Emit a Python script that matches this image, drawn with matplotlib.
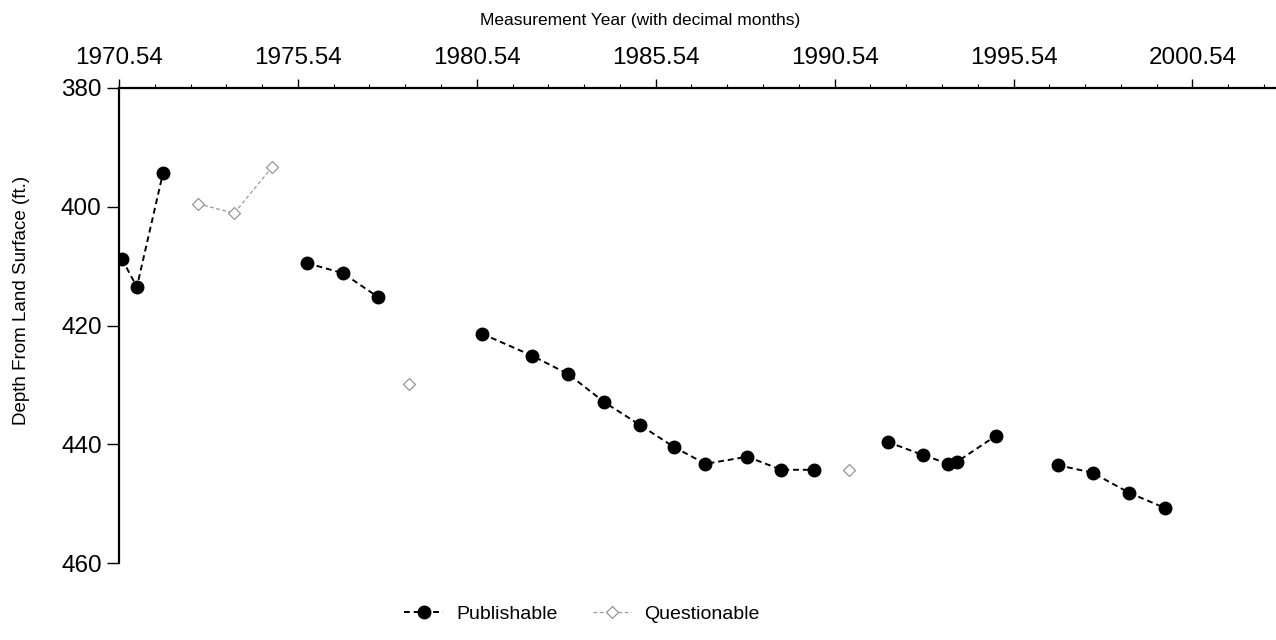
import numpy as np
import matplotlib
matplotlib.use("Agg")
import matplotlib.pyplot as plt
from matplotlib.ticker import MultipleLocator, FixedLocator

plt.rcParams['font.family'] = ['Liberation Sans', 'DejaVu Sans']

# Publishable measurements (NaN = gap in the dashed line)
pub_year = [1970.62, 1971.04, 1971.77, np.nan,
            1975.80, 1976.80, 1977.78, np.nan,
            1980.69, 1982.09, 1983.10, 1984.10, 1985.11, 1986.06, 1986.93,
            1988.10, 1989.05, 1989.95, np.nan,
            1992.02, 1993.00, 1993.72, 1993.95, 1995.04, np.nan,
            1996.77, 1997.75, 1998.78, 1999.76]
pub_depth = [408.8, 413.5, 394.3, np.nan,
             409.5, 411.2, 415.2, np.nan,
             421.4, 425.1, 428.2, 432.9, 436.8, 440.5, 443.3,
             442.1, 444.3, 444.3, np.nan,
             439.6, 441.8, 443.3, 443.0, 438.6, np.nan,
             443.5, 444.8, 448.2, 450.7]

# Questionable measurements
q_year = [1972.75, 1973.76, 1974.82, np.nan, 1978.65, np.nan, 1990.95]
q_depth = [399.5, 401.1, 393.3, np.nan, 429.9, np.nan, 444.3]

x_ticks = [1970.54, 1975.54, 1980.54, 1985.54, 1990.54, 1995.54, 2000.54]
y_ticks = [380, 400, 420, 440, 460]

fig = plt.figure(figsize=(12.76, 6.40), dpi=100)
ax = fig.add_axes([119/1276, 1 - 563/640, 1 - 119/1276 - 0.001, (563 - 88)/640])

ax.plot(pub_year, pub_depth, color='black', lw=1.4, dashes=(3, 2),
        marker='o', markersize=9, markerfacecolor='black',
        markeredgecolor='black', label='Publishable')
ax.plot(q_year, q_depth, color='#9a9a9a', lw=0.9, dashes=(3, 2),
        marker='D', markersize=6, markerfacecolor='white',
        markeredgecolor='#8a8a8a', markeredgewidth=0.8, label='Questionable')

ax.set_xlim(1970.54, 2002.84)
ax.set_ylim(460, 380)

ax.xaxis.tick_top()
ax.xaxis.set_major_locator(FixedLocator(x_ticks))
ax.xaxis.set_minor_locator(MultipleLocator(1.0, offset=0.54))
ax.set_xticklabels([f"{t:.2f}" for t in x_ticks])
ax.yaxis.set_major_locator(FixedLocator(y_ticks))

ax.tick_params(axis='x', which='major', length=6.5, width=1.0, pad=7,
               labelsize=17.5, direction='out')
ax.tick_params(axis='x', which='minor', length=3, width=0.8, direction='out')
ax.tick_params(axis='y', which='major', length=9, width=1.0, pad=3.5,
               labelsize=17.5, direction='out')
ax.tick_params(axis='y', which='minor', left=False)

for s in ['right', 'bottom']:
    ax.spines[s].set_visible(False)
ax.spines['left'].set_linewidth(1.6)
ax.spines['top'].set_linewidth(1.6)

fig.text(640/1276, 1 - 21/640, 'Measurement Year (with decimal months)',
         ha='center', va='center', fontsize=12.5)
fig.text(22/1276, 1 - 300/640, 'Depth From Land Surface (ft.)',
         ha='center', va='center', rotation=90, fontsize=13.5)

fig.legend(loc='center', bbox_to_anchor=(582/1276, 1 - 614/640), ncol=2,
           frameon=False, fontsize=14, handlelength=2.0, handletextpad=0.67,
           columnspacing=1.8, borderpad=0)

fig.savefig('out.png', dpi=100)
